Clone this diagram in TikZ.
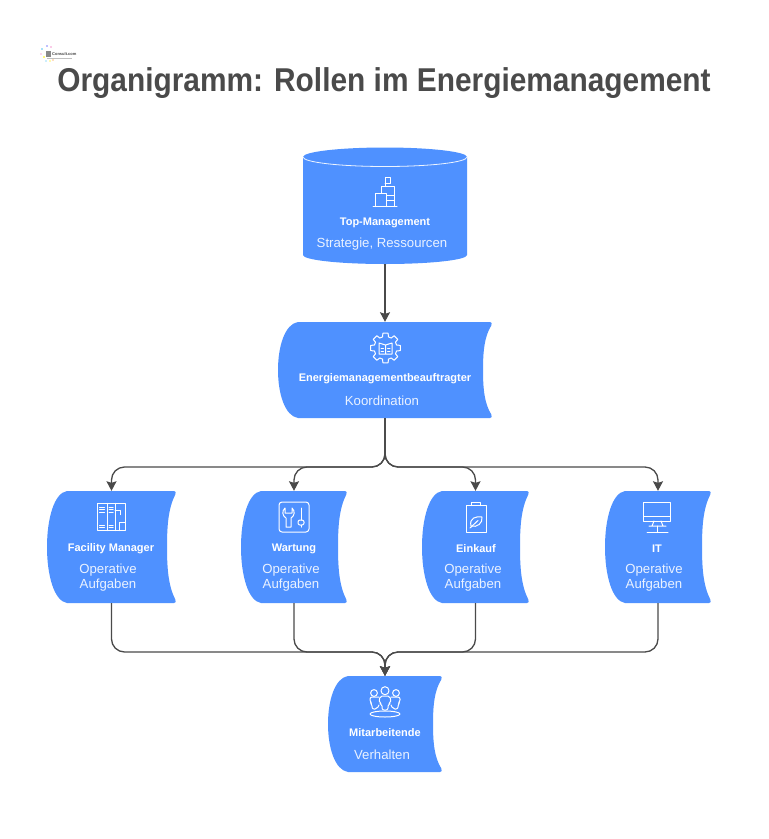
\documentclass[tikz,border=0pt]{standalone}
\usepackage{fontspec}
\setmainfont{Liberation Sans}
\usetikzlibrary{arrows.meta}
\definecolor{boxblue}{HTML}{4F91FF}
\definecolor{inkgray}{HTML}{4A4A4A}
\tikzset{
  boxname/.style={text=white,font=\bfseries\fontsize{11}{13}\selectfont,inner sep=0pt},
  boxinfo/.style={text=boxinfotext,font=\fontsize{13.2}{15}\selectfont,align=center,inner sep=0pt},
  flow/.style={draw=inkgray,line width=1.3pt,rounded corners=13pt,-{Stealth[length=9.5pt,width=10pt,inset=1.5pt]}},
  icon/.style={draw=white,line width=1pt,line join=round,line cap=round},
  iconoffice/.pic={
    \draw[icon] (-12,14.7) -- (12,14.7);
    \draw[icon] (-9.3,14.7) -- (-9.3,1) -- (1.7,1) -- (1.7,14.7);
    \draw[icon] (-3.3,1) -- (-3.3,-5.3) -- (9,-5.3) -- (9,14.7);
    \draw[icon] (0,-5.3) -- (0,-14.3) -- (5.7,-14.3) -- (5.7,-9) -- (0,-9);
    \draw[icon] (1.7,3) -- (9,3) (1.7,8) -- (9,8);
  },
  icongear/.pic={
    \draw[icon] (-10:15)
      \foreach \a in {0,45,...,315} {
        -- (\a-10:15) -- (\a+10:15) -- (\a+15:11.5) -- (\a+30:11.5) -- (\a+35:15)
      } -- cycle;
    \draw[icon] (-6.5,-5) -- (0,-3) -- (6.5,-5) -- (6.5,6) -- (-6.5,6) -- cycle (0,-3) -- (0,6);
    \draw[icon] (-4.5,0) -- (-2,0) (-4.5,3) -- (-2,3) (2,0) -- (4.5,0) (2,3) -- (4.5,3);
  },
  iconlocker/.pic={
    \draw[icon] (-13.7,-13.7) rectangle (14,13.7);
    \draw[icon] (-3.7,-13.7) -- (-3.7,13.7) (4,-13.7) -- (4,13.7);
    \foreach \y in {-10,-7.5,-5,8,10.5} {
      \draw[icon] (-11.5,\y) -- (-6.5,\y) (-1.8,\y) -- (2.2,\y);
    }
    \draw[icon] (4,-6.5) -- (9,-6.5) -- (9,-2.5);
    \draw[icon] (8,13.7) -- (8,5) -- (14,5);
  },
  icontools/.pic={
    \draw[icon,rounded corners=3pt] (-15,-15) rectangle (15,15);
    \draw[icon] (-9,-9) .. controls (-12.5,-6) and (-11.5,-1) .. (-8,1) -- (-8,10) -- (-3,10) -- (-3,1)
      .. controls (0.5,-1) and (1.5,-6) .. (-2,-9) -- (-2,-4) -- (-9,-4) -- cycle;
    \draw[icon] (7,-9) -- (7,3);
    \draw[icon,rounded corners=2pt] (4,3) rectangle (10,8);
    \draw[icon] (7,8) -- (7,10);
  },
  iconbag/.pic={
    \draw[icon] (-10,-11.3) rectangle (10,15.3);
    \draw[icon] (-4.3,-11.3) -- (-4.3,-15) -- (4.7,-15) -- (4.7,-11.3);
    \draw[icon] (-5,9) .. controls (-7,1) and (0,-1) .. (6,0) .. controls (7,6) and (1,11) .. (-5,9) -- cycle;
    \draw[icon] (-6,11) -- (2,3.5);
  },
  iconscreen/.pic={
    \draw[icon] (-13.5,-15) rectangle (13.5,4);
    \draw[icon] (-13.5,-0.3) -- (13.5,-0.3);
    \draw[icon] (-3,4) -- (-5,9) (4,4) -- (6,9) (-8,9) -- (9,9);
    \draw[icon] (0.5,9) -- (0.5,15) (-10,15) -- (11,15);
  },
  iconpeople/.pic={
    \draw[icon] (0,-11.3) circle (4pt) (-11,-9) circle (3.4pt) (11,-9) circle (3.4pt);
    \draw[icon,rounded corners=2pt] (-5,-6) -- (5,-6) -- (6,1) -- (3,2) -- (3,8) -- (-3,8) -- (-3,2) -- (-6,1) -- cycle;
    \draw[icon,rounded corners=2pt] (-6,-5) -- (-15,-5) -- (-15,0) -- (-13,2) -- (-13,7) -- (-8,7) -- (-6,3);
    \draw[icon,rounded corners=2pt] (6,-5) -- (15,-5) -- (15,0) -- (13,2) -- (13,7) -- (8,7) -- (6,3);
    \draw[icon] (0,12) ellipse (15pt and 3pt);
  },
}
\colorlet{boxinfotext}{white!88!boxblue}
% wavy box: name, left, right, top, bottom
\newcommand{\wavebox}[5]{
  \pgfmathsetmacro\boxmid{(#4+#5)/2}
  \pgfmathsetmacro\boxh{#5-#4}
  \fill[boxblue] ({#2+20},#4) -- ({#3-2},#4) .. controls (#3,#4) and (#3,{#4+1.5}) .. ({#3-0.7},{#4+3.5})
    .. controls ({#3-7.5},{#4+0.15*\boxh}) and ({#3-9},{\boxmid-0.2*\boxh}) .. ({#3-9},\boxmid)
    .. controls ({#3-9},{\boxmid+0.2*\boxh}) and ({#3-7.5},{#5-0.15*\boxh}) .. ({#3-0.7},{#5-3.5})
    .. controls (#3,{#5-1.5}) and (#3,#5) .. ({#3-2},#5) -- ({#2+20},#5)
    .. controls ({#2+7},{#5-2}) and (#2,{\boxmid+0.25*\boxh}) .. (#2,\boxmid)
    .. controls (#2,{\boxmid-0.25*\boxh}) and ({#2+7},{#4+2}) .. ({#2+20},#4) -- cycle;
  \node (#1) [inner sep=0pt,minimum width={(#3-#2)*1pt},minimum height={(#5-#4)*1pt}]
    at ({(#2+#3)/2},\boxmid) {};
}

\begin{document}
\begin{tikzpicture}[x=1pt,y=-1pt,node distance=22pt]
\useasboundingbox (0,0) rectangle (769,839);
\fill[white] (0,0) rectangle (769,839);

% logo
\foreach \px/\py/\pc in {42/49/cyan!70,47/46/blue!50,44/57/yellow,51/47/magenta!40,46/61/cyan!40,41/54/magenta!30,53/60/orange!50,50/61/yellow!60}
  \fill[\pc] (\px,\py) circle (0.9pt);
\fill[inkgray!65] (46,50.5) rectangle (51,56.5);
\node (logotext) [text=inkgray,font=\bfseries\fontsize{4}{4}\selectfont,inner sep=0pt,anchor=west] at (52,54) {Consult.com};
\draw[gray!50,line width=0.5pt] (47,58) -- (72,58);

\node (title) [text=inkgray,font=\bfseries\fontsize{33}{38}\selectfont,inner sep=0pt] at (384,83)
{\scalebox{0.905}[1]{Organigramm: Rollen im Energiemanagement}};

% cylinder on top
\fill[boxblue] (303,157) -- (303,255) arc[start angle=180,end angle=360,x radius=82pt,y radius=9pt]
  -- (467,157) arc[start angle=0,end angle=180,x radius=82pt,y radius=9.5pt] -- cycle;
\draw[white!90!boxblue,line width=0.8pt] (303,157) arc[start angle=180,end angle=360,x radius=82pt,y radius=9.5pt];
\node (topmgmt) [inner sep=0pt,minimum width=164pt,minimum height=116pt] at (385,206) {};

\wavebox{beauftragter}{278}{492}{322}{418}
\wavebox{facility}{47}{176}{491}{603}
\wavebox{wartung}{241}{347}{491}{603}
\wavebox{einkauf}{422}{529}{491}{603}
\wavebox{itbox}{605}{711}{491}{603}
\wavebox{mitarbeit}{328}{442}{676}{772}

% texts
\node (topname) [boxname] at (385,222.5) {Top-Management};
\node (topinfo) [boxinfo, below of=topname, xshift=-3pt] {Strategie, Ressourcen};
\node (bename) [boxname] at (385,378.5) {Energiemanagementbeauftragter};
\node (beinfo) [boxinfo, below of=bename, xshift=-3pt] {Koordination};
\node (fmname) [boxname] at (111,548.5) {Facility Manager};
\node (fminfo) [boxinfo, below of=fmname, xshift=-3pt, yshift=-7.5pt] {Operative\\Aufgaben};
\node (waname) [boxname] at (294,548.5) {Wartung};
\node (wainfo) [boxinfo, below of=waname, xshift=-3pt, yshift=-7.5pt] {Operative\\Aufgaben};
\node (einame) [boxname] at (476,548.5) {Einkauf};
\node (eiinfo) [boxinfo, below of=einame, xshift=-3pt, yshift=-7.5pt] {Operative\\Aufgaben};
\node (itname) [boxname] at (657,548.5) {IT};
\node (itinfo) [boxinfo, below of=itname, xshift=-3pt, yshift=-7.5pt] {Operative\\Aufgaben};
\node (miname) [boxname] at (385,732.5) {Mitarbeitende};
\node (miinfo) [boxinfo, below of=miname, xshift=-3pt] {Verhalten};

% icons
\pic at (385,192) {iconoffice};
\pic at (385.5,348) {icongear};
\pic at (111,517) {iconlocker};
\pic at (294,517) {icontools};
\pic at (476,517) {iconbag};
\pic at (657,517) {iconscreen};
\pic at (385,702) {iconpeople};

% connectors
\coordinate (splitpoint) at (385,467);
\coordinate (joinpoint) at (385,652);
\draw[flow] (topmgmt.south) -- (beauftragter.north);
\draw[flow] (beauftragter.south) -- (splitpoint) -| (facility.north);
\draw[flow] (beauftragter.south) -- (splitpoint) -| (wartung.north);
\draw[flow] (beauftragter.south) -- (splitpoint) -| (einkauf.north);
\draw[flow] (beauftragter.south) -- (splitpoint) -| (itbox.north);
\draw[flow] (facility.south) |- (joinpoint) -- (mitarbeit.north);
\draw[flow] (wartung.south) |- (joinpoint) -- (mitarbeit.north);
\draw[flow] (einkauf.south) |- (joinpoint) -- (mitarbeit.north);
\draw[flow] (itbox.south) |- (joinpoint) -- (mitarbeit.north);
\end{tikzpicture}
\end{document}
